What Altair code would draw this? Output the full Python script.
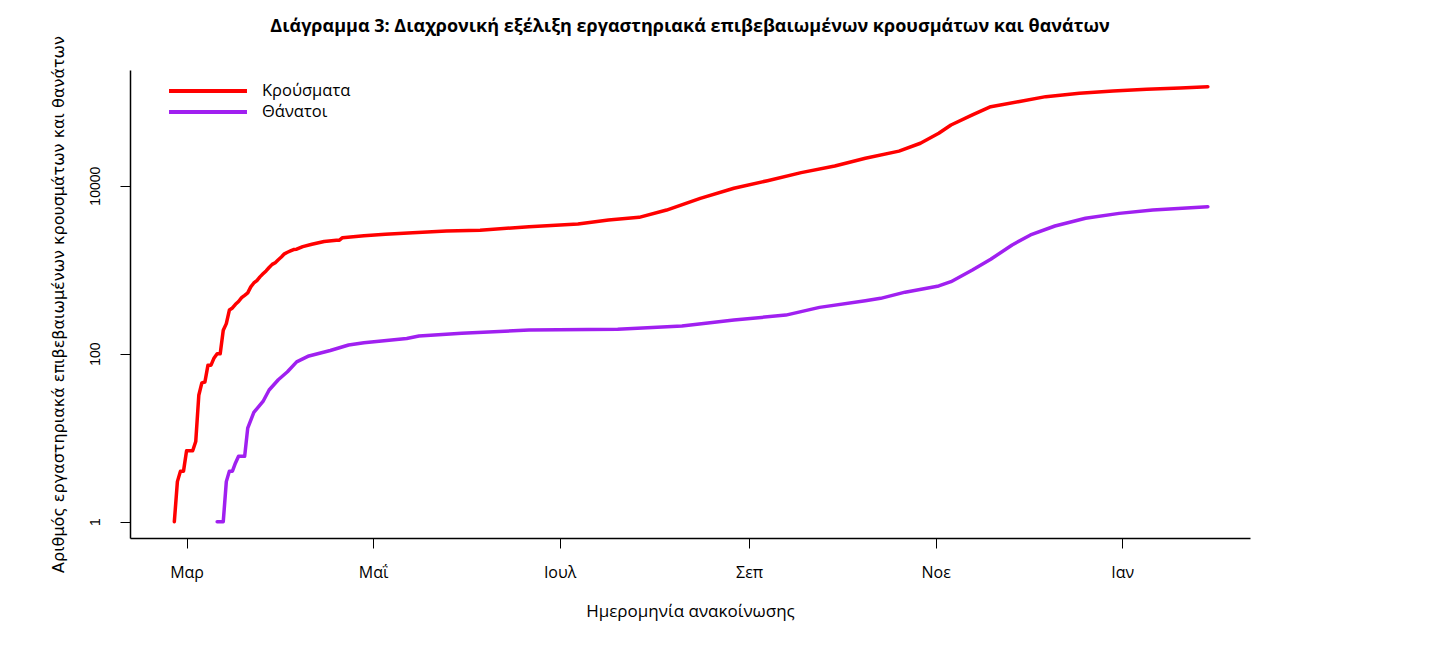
import altair as alt
import pandas as pd

# ---- data ----
case_dates = ["2020-02-26", "2020-02-27", "2020-02-28", "2020-02-29", "2020-03-01", "2020-03-03",
              "2020-03-04", "2020-03-05", "2020-03-06", "2020-03-07", "2020-03-08", "2020-03-09",
              "2020-03-10", "2020-03-11", "2020-03-12", "2020-03-13", "2020-03-14", "2020-03-15",
              "2020-03-16", "2020-03-17", "2020-03-18", "2020-03-19", "2020-03-20", "2020-03-21",
              "2020-03-22", "2020-03-23", "2020-03-24", "2020-03-25", "2020-03-26", "2020-03-27",
              "2020-03-28", "2020-03-29", "2020-03-30", "2020-03-31", "2020-04-01", "2020-04-02",
              "2020-04-03", "2020-04-04", "2020-04-05", "2020-04-06", "2020-04-08", "2020-04-11",
              "2020-04-15", "2020-04-19", "2020-04-20", "2020-04-21", "2020-04-28", "2020-05-05",
              "2020-05-14", "2020-05-25", "2020-06-05", "2020-06-21", "2020-07-07", "2020-07-17",
              "2020-07-27", "2020-08-05", "2020-08-16", "2020-08-27", "2020-09-07", "2020-09-18",
              "2020-09-29", "2020-10-09", "2020-10-20", "2020-10-27", "2020-11-02", "2020-11-06",
              "2020-11-13", "2020-11-19", "2020-11-28", "2020-12-07", "2020-12-18", "2020-12-29",
              "2021-01-09", "2021-01-20", "2021-01-29"]
case_values = [1, 3, 4, 4, 7, 7,
               9, 32, 45, 46, 73, 73,
               89, 100, 100, 190, 228, 331,
               350, 387, 418, 464, 495, 530,
               624, 695, 743, 821, 892, 966,
               1061, 1156, 1212, 1314, 1415, 1544,
               1613, 1673, 1735, 1755, 1884, 2011,
               2170, 2235, 2245, 2401, 2534, 2642,
               2760, 2878, 2952, 3240, 3500, 3900,
               4200, 5130, 7070, 9320, 11470, 14290,
               17170, 21200, 25800, 32000, 42000, 52800,
               69500, 87200, 100000, 114800, 126000, 134000,
               140600, 145600, 151000]

death_dates = ["2020-03-11", "2020-03-13", "2020-03-14", "2020-03-15", "2020-03-16", "2020-03-17",
               "2020-03-18", "2020-03-19", "2020-03-20", "2020-03-21", "2020-03-23", "2020-03-26",
               "2020-03-28", "2020-03-31", "2020-04-03", "2020-04-06", "2020-04-10", "2020-04-17",
               "2020-04-23", "2020-04-28", "2020-05-12", "2020-05-16", "2020-05-30", "2020-06-21",
               "2020-07-20", "2020-08-10", "2020-08-27", "2020-09-13", "2020-09-24", "2020-10-09",
               "2020-10-14", "2020-10-22", "2020-11-02", "2020-11-06", "2020-11-13", "2020-11-19",
               "2020-11-26", "2020-12-02", "2020-12-10", "2020-12-20", "2020-12-31", "2021-01-11",
               "2021-01-29"]
death_values = [1, 1, 3, 4, 4, 5,
                6, 6, 6, 13, 20, 27,
                37, 49, 61, 80, 94, 109,
                127, 135, 152, 162, 175, 191,
                195, 214, 252, 288, 356, 426,
                456, 540, 640, 720, 991, 1330,
                1970, 2590, 3310, 4090, 4680, 5130,
                5620]

series_names = ["Κρούσματα", "Θάνατοι"]
series_colors = ["#FF0000", "#A020F0"]

tick_dates = [(2020, 3, 1), (2020, 5, 1), (2020, 7, 1), (2020, 9, 1), (2020, 11, 1), (2021, 1, 1)]
month_labels = ["Ιαν", "Φεβ", "Μαρ", "Απρ", "Μαΐ", "Ιουν", "Ιουλ", "Αυγ", "Σεπ", "Οκτ", "Νοε", "Δεκ"]
y_ticks = [1, 100, 10000]

title_text = "Διάγραμμα 3: Διαχρονική εξέλιξη εργαστηριακά επιβεβαιωμένων κρουσμάτων και θανάτων"
x_title = "Ημερομηνία ανακοίνωσης"
y_title = "Αριθμός εργαστηριακά επιβεβαιωμένων κρουσμάτων και θανάτων"

df = pd.concat([
    pd.DataFrame({"date": case_dates, "value": case_values, "series": series_names[0], "order": range(len(case_dates))}),
    pd.DataFrame({"date": death_dates, "value": death_values, "series": series_names[1], "order": range(len(death_dates))}),
])

label_expr = "[" + ",".join("'%s'" % m for m in month_labels) + "][utcmonth(datum.value)]"

x_domain = [alt.DateTime(year=2020, month=2, date=11, hours=12, utc=True),
            alt.DateTime(year=2021, month=2, date=11, hours=19, utc=True)]
x_values = [alt.DateTime(year=y, month=m, date=d, utc=True) for (y, m, d) in tick_dates]

chart = alt.Chart(df).mark_line(strokeWidth=3.5, strokeCap="round", strokeJoin="round").encode(
    x=alt.X("date:T",
            scale=alt.Scale(type="utc", domain=x_domain, nice=False),
            axis=alt.Axis(values=x_values, labelExpr=label_expr, title=x_title,
                          labelFont="Open Sans", labelFontSize=16, labelColor="black",
                          labelPadding=16, labelFlush=False,
                          titleFont="Open Sans", titleFontSize=17, titleFontWeight="normal",
                          titleColor="black", titlePadding=23,
                          tickSize=10, tickColor="black", tickWidth=1,
                          domainColor="black", domainWidth=1.5, grid=False)),
    y=alt.Y("value:Q",
            scale=alt.Scale(type="log", domain=[10 ** -0.194, 10 ** 5.377], nice=False),
            axis=alt.Axis(values=y_ticks, format="d", title=y_title,
                          labelAngle=270, labelAlign="center", labelBaseline="bottom",
                          labelFont="Liberation Sans", labelFontSize=14, labelColor="black",
                          labelPadding=18, labelFlush=False,
                          titleFont="DejaVu Sans", titleFontSize=16, titleFontWeight="normal",
                          titleColor="black", titlePadding=22,
                          tickSize=10, tickColor="black", tickWidth=1,
                          domainColor="black", domainWidth=1.5, grid=False)),
    color=alt.Color("series:N",
                    scale=alt.Scale(domain=series_names, range=series_colors),
                    legend=alt.Legend(title=None, orient="none", legendX=66, legendY=9,
                                      symbolType="M-4,0H4", symbolSize=380, symbolStrokeWidth=4,
                                      labelFont="Open Sans", labelFontSize=16.5, labelColor="black",
                                      labelOffset=42, padding=0, rowPadding=-2)),
    order="order:Q",
).properties(
    width=1120,
    height=468,
    background="white",
    title=alt.TitleParams(title_text, fontSize=18, fontWeight="bold", font="Open Sans",
                          anchor="middle", frame="group", color="black", offset=0),
    autosize=alt.AutoSizeParams(type="none"),
    padding={"left": 122, "top": 62, "right": 190, "bottom": 102},
).configure_view(stroke=None)

chart.save("out.html", embed_options={"renderer": "svg", "actions": False})
